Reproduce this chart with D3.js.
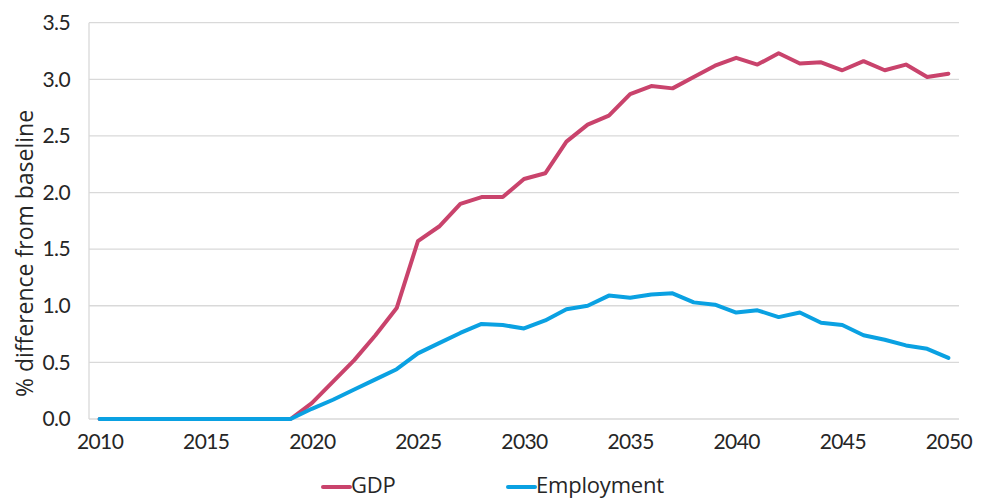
<!DOCTYPE html>
<html>
<head>
<meta charset="utf-8">
<script src="https://cdn.jsdelivr.net/npm/d3@7"></script>
<style>
  html, body { margin: 0; padding: 0; background: #fff; }
  svg { display: block; }
  text { fill: #262626; }
  .num { font-family: Lato, "Noto Sans", sans-serif; }
  .word { font-family: "Open Sans", "Noto Sans", sans-serif; }
</style>
</head>
<body>
<svg id="chart" width="986" height="500"></svg>
<script>
// Years on the horizontal axis
const years = d3.range(2010, 2051);

// % difference from baseline, by year (2010–2050)
const gdp = [
  0, 0, 0, 0, 0, 0, 0, 0, 0, 0,
  0.14, 0.33, 0.52, 0.74, 0.98, 1.57, 1.70, 1.90, 1.96, 1.96,
  2.12, 2.17, 2.45, 2.60, 2.68, 2.87, 2.94, 2.92, 3.02, 3.12,
  3.19, 3.13, 3.23, 3.14, 3.15, 3.08, 3.16, 3.08, 3.13, 3.02,
  3.05
];
const employment = [
  0, 0, 0, 0, 0, 0, 0, 0, 0, 0,
  0.09, 0.17, 0.26, 0.35, 0.44, 0.58, 0.67, 0.76, 0.84, 0.83,
  0.80, 0.87, 0.97, 1.00, 1.09, 1.07, 1.10, 1.11, 1.03, 1.01,
  0.94, 0.96, 0.90, 0.94, 0.85, 0.83, 0.74, 0.70, 0.65, 0.62,
  0.54
];

const yTicks = [0, 0.5, 1.0, 1.5, 2.0, 2.5, 3.0, 3.5];
const xTicks = [2010, 2015, 2020, 2025, 2030, 2035, 2040, 2045, 2050];

const series = [
  { name: "GDP", values: gdp, color: "#c9436c" },
  { name: "Employment", values: employment, color: "#0aa1e2" }
];

const svg = d3.select("#chart");
const plot = { left: 89, right: 959, top: 22.7, bottom: 419 };

const x = d3.scalePoint()
  .domain(years)
  .range([plot.left, plot.right])
  .padding(0.5);

const y = d3.scaleLinear()
  .domain([0, 3.5])
  .range([plot.bottom, plot.top]);

// Horizontal gridlines
svg.append("g")
  .selectAll("line")
  .data(yTicks)
  .join("line")
  .attr("x1", plot.left)
  .attr("x2", plot.right)
  .attr("y1", d => y(d))
  .attr("y2", d => y(d))
  .attr("stroke", "#d9d9d9")
  .attr("stroke-width", 1.3);

// Left axis line
svg.append("line")
  .attr("x1", plot.left).attr("x2", plot.left)
  .attr("y1", plot.top).attr("y2", plot.bottom)
  .attr("stroke", "#d9d9d9")
  .attr("stroke-width", 1.3);

// Y axis
const yAxis = d3.axisLeft(y)
  .tickValues(yTicks)
  .tickFormat(d3.format(".1f"))
  .tickSize(0)
  .tickPadding(19);
const gy = svg.append("g")
  .attr("transform", `translate(${plot.left},0)`)
  .call(yAxis);
gy.select(".domain").remove();
gy.selectAll("text")
  .attr("class", "num")
  .style("font-size", "21px")
  .style("letter-spacing", "-0.6px")
  .attr("fill", "#262626");

// X axis
const xAxis = d3.axisBottom(x)
  .tickValues(xTicks)
  .tickSize(0)
  .tickPadding(15);
const gx = svg.append("g")
  .attr("transform", `translate(0,${plot.bottom})`)
  .call(xAxis);
gx.select(".domain").remove();
gx.selectAll("text")
  .attr("class", "num")
  .style("font-size", "21px")
  .style("letter-spacing", "-0.6px")
  .attr("fill", "#262626");

// Y axis title
svg.append("text")
  .attr("class", "word")
  .attr("transform", "translate(33,253.5) rotate(-90)")
  .attr("text-anchor", "middle")
  .style("font-size", "23px")
  .text("% difference from baseline");

// Lines
const line = d3.line()
  .x((d, i) => x(years[i]))
  .y(d => y(d));

svg.append("g")
  .selectAll("path")
  .data(series)
  .join("path")
  .attr("d", d => line(d.values))
  .attr("fill", "none")
  .attr("stroke", d => d.color)
  .attr("stroke-width", 4)
  .attr("stroke-linejoin", "round")
  .attr("stroke-linecap", "round");

// Legend
const legendItems = [
  { s: series[0], x: 323 },
  { s: series[1], x: 508 }
];
const lg = svg.append("g").selectAll("g")
  .data(legendItems)
  .join("g")
  .attr("transform", d => `translate(${d.x},487)`);
lg.append("line")
  .attr("x1", 0).attr("x2", 27)
  .attr("y1", 0).attr("y2", 0)
  .attr("stroke", d => d.s.color)
  .attr("stroke-width", 4)
  .attr("stroke-linecap", "round");
lg.append("text")
  .attr("class", "word")
  .attr("x", 28)
  .attr("y", 6)
  .style("font-size", "22px")
  .style("letter-spacing", "-0.2px")
  .text(d => d.s.name);
</script>
</body>
</html>
